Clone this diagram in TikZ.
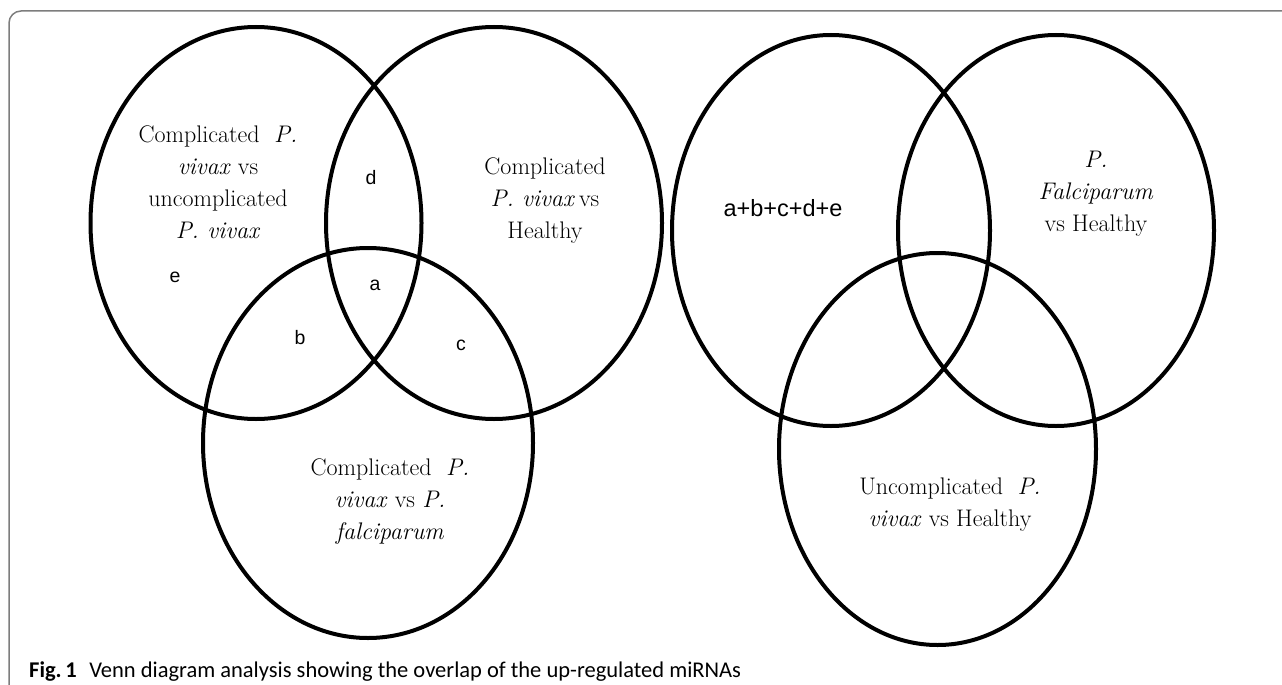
\documentclass[tikz,border=0pt]{standalone}
\usepackage{fontspec}
\newfontfamily\regionfont{Liberation Sans}
\newfontfamily\captionfont{Carlito}
\usepackage{tikz}
\definecolor{framegray}{RGB}{125,125,125}

\begin{document}
\begin{tikzpicture}[x=1pt,y=-1pt,
        venn/.style={line width=4pt},
        setname/.style={align=center,font=\fontsize{24}{32}\selectfont},
        region/.style={font=\regionfont\fontsize{19.5}{20}\selectfont}
        ]
        \useasboundingbox (0,0) rectangle (1282,685);
        \clip (0,0) rectangle (1282,685);
        % Frame of the figure
        \draw[framegray,line width=1.5pt,rounded corners=12pt] (9,11) rectangle (1320,720)
        ;
        %% Left diagram: the three comparisons
        \draw[venn] (256,223) ellipse [x radius=165.5,y radius=196]
        ;
        \draw[venn] (494,223) ellipse [x radius=168,y radius=196]
        ;
        \draw[venn] (368,443) ellipse [x radius=165,y radius=195]
        ;
        \node[setname] (cvu) at (218,182) {Complicated\ \ \textit{P.}\\ \textit{vivax} vs\\ uncomplicated\\ \textit{P. vivax}};
        \node[setname] (cvh) at (545,201) {Complicated\\ \textit{P. vivax}\,vs\\ Healthy};
        \node[setname] (cvf) at (390,502) {Complicated\ \ \textit{P.}\\ \textit{vivax} vs \textit{P.}\\ \textit{falciparum}};
        % Region letters
        \node[region] (rd) at (371,178) {d};
        \node[region] (re) at (175,277) {e};
        \node[region] (ra) at (375,285) {a};
        \node[region] (rb) at (300,338) {b};
        \node[region] (rc) at (461,345) {c};
        %% Right diagram
        \draw[venn] (831,230.5) ellipse [x radius=159,y radius=195.5]
        ;
        \draw[venn] (1056,230.5) ellipse [x radius=158,y radius=195.5]
        ;
        \draw[venn] (937.5,449) ellipse [x radius=158.5,y radius=196]
        ;
        \node[region,font=\regionfont\fontsize{23.5}{24}\selectfont] (rsum) at (783,208) {a+b+c+d+e};
        \node[setname] (pfh) at (1096,194) {\textit{P.}\\ \textit{Falciparum}\\ vs Healthy};
        \node[setname] (uvh) at (950,505) {Uncomplicated\ \ \textit{P.}\\ \textit{vivax} vs Healthy};
        % Caption
        \node[anchor=base west,inner sep=0pt,font=\captionfont\fontsize{22.5}{23}\selectfont] (cap) at (29,677)
            {\textbf{Fig.\,1}\hspace{0.55em}Venn diagram analysis showing the overlap of the up-regulated miRNAs};
\end{tikzpicture}
\end{document}
